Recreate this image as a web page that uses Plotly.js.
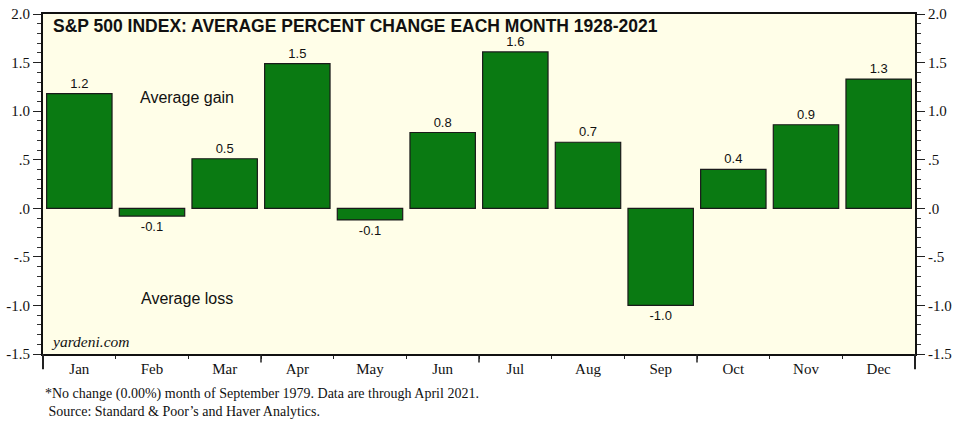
<!DOCTYPE html>
<html>
<head>
<meta charset="utf-8">
<script src="https://cdn.plot.ly/plotly-3.0.1.min.js"></script>
<style>html,body{margin:0;padding:0;background:#fff;}#chart{width:960px;height:432px;}</style>
</head>
<body>
<div id="chart"></div>
<script>
const months = ["Jan","Feb","Mar","Apr","May","Jun","Jul","Aug","Sep","Oct","Nov","Dec"];
const avgChange = [1.18, -0.08, 0.51, 1.49, -0.12, 0.78, 1.61, 0.68, -1.00, 0.40, 0.86, 1.33];
const yTickVals = [2.0, 1.5, 1.0, 0.5, 0.0, -0.5, -1.0, -1.5];
const yTickText = ["2.0", "1.5", "1.0", ".5", ".0", "-.5", "-1.0", "-1.5"];
const titleText = "S&amp;P 500 INDEX: AVERAGE PERCENT CHANGE EACH MONTH 1928-2021";
const footLine1 = "*No change (0.00%) month of September 1979. Data are through April 2021.";
const footLine2 = " Source: Standard &amp; Poor’s and Haver Analytics.";

const serif = "Liberation Serif, Times New Roman, serif";
const sans = "Liberation Sans, Arial, sans-serif";

const barTrace = {
  type: "bar",
  x: months,
  y: avgChange,
  marker: {color: "#0a7a12", line: {color: "#1a1a1a", width: 1.2}},
  texttemplate: "%{y:.1f}",
  textposition: "outside",
  textfont: {family: sans, size: 13, color: "#111"},
  cliponaxis: false,
  hoverinfo: "skip"
};
// carrier for the right-hand axis (draws nothing)
const rightAxisTrace = {
  type: "scatter", mode: "none", x: months, y: avgChange, yaxis: "y2", hoverinfo: "skip"
};

const yaxisCommon = {
  range: [-1.5, 2.0],
  tickvals: yTickVals,
  ticktext: yTickText,
  tickfont: {family: serif, size: 15, color: "#111"},
  ticks: "outside",
  ticklen: 8,
  tickcolor: "#222",
  showline: true,
  linecolor: "#111",
  linewidth: 2,
  showgrid: false,
  zeroline: false,
  minor: {dtick: 0.1, ticks: "outside", ticklen: 4, tickcolor: "#333", showgrid: false},
  fixedrange: true
};

const layout = {
  width: 960, height: 432,
  margin: {l: 43, r: 45, t: 14, b: 78},
  paper_bgcolor: "#ffffff",
  plot_bgcolor: "#fffee8",
  showlegend: false,
  bargap: 0.1,
  xaxis: {
    type: "category",
    tickfont: {family: serif, size: 15, color: "#111"},
    ticks: "outside",
    tickson: "boundaries",
    ticklen: 3,
    tickcolor: "#222",
    showline: true,
    mirror: true,
    linecolor: "#111",
    linewidth: 2,
    showgrid: false,
    zeroline: false,
    fixedrange: true
  },
  yaxis: Object.assign({}, yaxisCommon, {side: "left"}),
  yaxis2: Object.assign({}, yaxisCommon, {side: "right", overlaying: "y", anchor: "x"}),
  shapes: [2.5, 5.5, 8.5].map(v => ({
    type: "line", xref: "x", yref: "paper", x0: v, x1: v, y0: 0, y1: -0.025,
    line: {color: "#222", width: 1.5}
  })).concat([0, 1].map(v => ({
    type: "line", xref: "paper", yref: "paper", x0: v, x1: v, y0: 0, y1: -0.045,
    line: {color: "#222", width: 2}
  }))),
  annotations: [
    {text: "<b>" + titleText + "</b>", xref: "paper", yref: "paper", x: 0.01, y: 0.998,
     xanchor: "left", yanchor: "top", showarrow: false, borderpad: 0, font: {family: sans, size: 17.5, color: "#111"}},
    {text: "Average gain", xref: "paper", yref: "y", x: 0.165, y: 1.14, xanchor: "center", yanchor: "middle",
     showarrow: false, font: {family: sans, size: 16, color: "#111"}},
    {text: "Average loss", xref: "paper", yref: "y", x: 0.165, y: -0.93, xanchor: "center", yanchor: "middle",
     showarrow: false, font: {family: sans, size: 16, color: "#111"}},
    {text: "<i>yardeni.com</i>", xref: "paper", yref: "paper", x: 0.007, y: 0.005, xanchor: "left", yanchor: "bottom",
     showarrow: false, font: {family: serif, size: 15.5, color: "#111"}},
    {text: footLine1 + "<br>" + footLine2, xref: "paper", yref: "paper", x: 0, y: -0.144, xanchor: "left", yanchor: "middle",
     align: "left", showarrow: false, font: {family: serif, size: 14, color: "#111"}}
  ]
};

Plotly.newPlot("chart", [barTrace, rightAxisTrace], layout, {displayModeBar: false, staticPlot: true});
</script>
</body>
</html>
